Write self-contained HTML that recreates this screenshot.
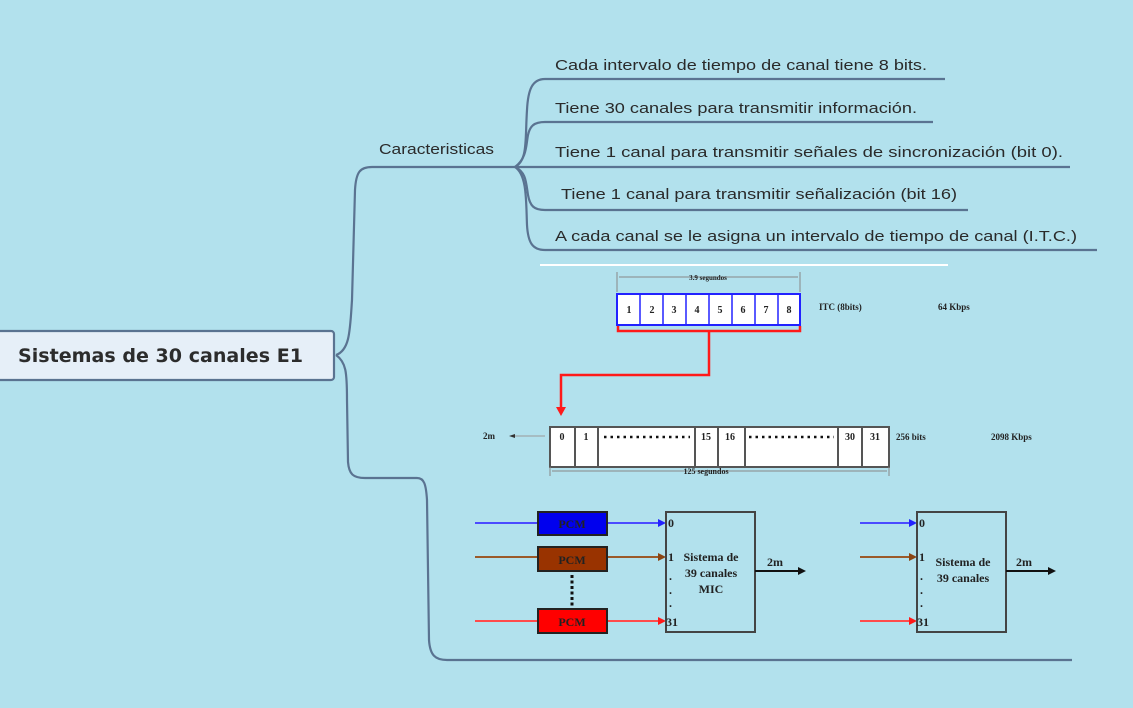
<!DOCTYPE html>
<html><head><meta charset="utf-8"><style>
html,body{margin:0;padding:0;background:#b2e1ed;}
svg{display:block}
.t{font-family:"Liberation Sans","DejaVu Sans",sans-serif;font-size:15px;fill:#2a2a2a}
.s{font-family:"Liberation Serif",serif;font-weight:bold;fill:#222}
</style></head><body>
<svg width="1133" height="708" viewBox="0 0 1133 708" xmlns="http://www.w3.org/2000/svg">
<rect width="1133" height="708" fill="#b2e1ed"/>
<g fill="none" stroke="#5a7391" stroke-width="2.2">
<path d="M336 355 C350 350 350 330 352 300 L355 190 C356 172 360 167 372 167 L515 167"/>
<path d="M336 355 C346 362 347 372 347 400 L348 462 C349 474 353 478 365 478 L417 478 C424 478 426 484 427 500 L429 640 C430 655 435 660 447 660 L1072 660"/>
<path d="M515 167 C528 160 525 140 527 110 C528 90 532 79 545 79 L945 79"/>
<path d="M515 167 C527 158 526 145 528 135 C530 126 534 122 545 122 L933 122"/>
<path d="M515 167 L1070 167"/>
<path d="M515 167 C526 172 526 182 528 195 C530 206 534 210 545 210 L968 210"/>
<path d="M515 167 C527 175 526 200 527 225 C528 242 532 250 545 250 L1097 250"/>
</g>
<rect x="-4" y="331" width="338" height="49" rx="3" fill="#e6eff8" stroke="#5a7391" stroke-width="2.2"/>
<text x="18" y="362" font-family="'DejaVu Sans','Liberation Sans',sans-serif" font-weight="bold" font-size="19" fill="#2c2c2c" textLength="285" lengthAdjust="spacingAndGlyphs">Sistemas de 30 canales E1</text>
<text class="t" x="379" y="154" textLength="115" lengthAdjust="spacingAndGlyphs">Caracteristicas</text>
<text class="t" x="555" y="70" textLength="372" lengthAdjust="spacingAndGlyphs">Cada intervalo de tiempo de canal tiene 8 bits.</text>
<text class="t" x="555" y="113" textLength="362" lengthAdjust="spacingAndGlyphs">Tiene 30 canales para transmitir información.</text>
<text class="t" x="555" y="157" textLength="508" lengthAdjust="spacingAndGlyphs">Tiene 1 canal para transmitir señales de sincronización (bit 0).</text>
<text class="t" x="561" y="199" textLength="396" lengthAdjust="spacingAndGlyphs">Tiene 1 canal para transmitir señalización (bit 16)</text>
<text class="t" x="555" y="241" textLength="522" lengthAdjust="spacingAndGlyphs">A cada canal se le asigna un intervalo de tiempo de canal (I.T.C.)</text>
<line x1="540" y1="265" x2="948" y2="265" stroke="#fff" stroke-width="2"/>

<g stroke="#888" stroke-width="1"><line x1="617" y1="272" x2="617" y2="292"/><line x1="800" y1="272" x2="800" y2="292"/>
<line x1="619" y1="277" x2="798" y2="277"/></g>
<text class="s" x="708" y="280" font-size="7" text-anchor="middle">3.9 segundos</text>
<rect x="617" y="294" width="183" height="31" fill="#fff" stroke="#2222ff" stroke-width="2"/>
<g stroke="#2222ff" stroke-width="1.5">
<line x1="640" y1="294" x2="640" y2="325"/><line x1="663" y1="294" x2="663" y2="325"/><line x1="686" y1="294" x2="686" y2="325"/><line x1="709" y1="294" x2="709" y2="325"/><line x1="732" y1="294" x2="732" y2="325"/><line x1="755" y1="294" x2="755" y2="325"/><line x1="778" y1="294" x2="778" y2="325"/></g>
<g class="s" font-size="10" text-anchor="middle">
<text x="629" y="313">1</text><text x="652" y="313">2</text><text x="674" y="313">3</text><text x="697" y="313">4</text><text x="720" y="313">5</text><text x="743" y="313">6</text><text x="766" y="313">7</text><text x="789" y="313">8</text></g>
<text class="s" x="819" y="310" font-size="9">ITC (8bits)</text>
<text class="s" x="938" y="310" font-size="9">64 Kbps</text>
<path d="M618 326 L618 331 L800 331 L800 326 M709 331 L709 375 L561 375 L561 408" fill="none" stroke="#ff1a1a" stroke-width="2.5"/>
<polygon points="556,407 566,407 561,416" fill="#ff1a1a"/>

<rect x="550" y="427" width="339" height="40" fill="#fff" stroke="#555" stroke-width="2"/>
<g stroke="#555" stroke-width="2">
<line x1="575" y1="427" x2="575" y2="467"/><line x1="598" y1="427" x2="598" y2="467"/><line x1="695" y1="427" x2="695" y2="467"/><line x1="718" y1="427" x2="718" y2="467"/><line x1="745" y1="427" x2="745" y2="467"/><line x1="838" y1="427" x2="838" y2="467"/><line x1="862" y1="427" x2="862" y2="467"/></g>
<g class="s" font-size="10" text-anchor="middle">
<text x="562" y="440">0</text><text x="586" y="440">1</text><text x="706" y="440">15</text><text x="730" y="440">16</text><text x="850" y="440">30</text><text x="875" y="440">31</text></g>
<line x1="604" y1="437" x2="690" y2="437" stroke="#111" stroke-width="2.5" stroke-dasharray="2.5 4"/>
<line x1="749" y1="437" x2="834" y2="437" stroke="#111" stroke-width="2.5" stroke-dasharray="2.5 4"/>
<text class="s" x="483" y="439" font-size="9">2m</text>
<line x1="512" y1="436" x2="545" y2="436" stroke="#999" stroke-width="1"/>
<polygon points="509,436 515,434 515,438" fill="#333"/>
<text class="s" x="896" y="440" font-size="9">256 bits</text>
<text class="s" x="991" y="440" font-size="9">2098 Kbps</text>
<g stroke="#888" stroke-width="1"><line x1="550" y1="467" x2="550" y2="476"/><line x1="889" y1="467" x2="889" y2="476"/><line x1="552" y1="471" x2="887" y2="471"/></g>
<text class="s" x="706" y="474" font-size="8" text-anchor="middle">125 segundos</text>

<line x1="475" y1="523" x2="538" y2="523" stroke="#4b4bff" stroke-width="2"/>
<line x1="607" y1="523" x2="660" y2="523" stroke="#4b4bff" stroke-width="2"/><polygon points="658,519 666,523 658,527" fill="#2222ff"/>
<line x1="475" y1="557" x2="538" y2="557" stroke="#9b5a2a" stroke-width="2"/>
<line x1="607" y1="557" x2="660" y2="557" stroke="#9b5a2a" stroke-width="2"/><polygon points="658,553 666,557 658,561" fill="#8b4513"/>
<line x1="475" y1="621" x2="538" y2="621" stroke="#ff4b4b" stroke-width="2"/>
<line x1="607" y1="621" x2="660" y2="621" stroke="#ff4b4b" stroke-width="2"/><polygon points="658,617 666,621 658,625" fill="#ff1a1a"/>
<rect x="538" y="512" width="69" height="23" fill="#0000ee" stroke="#222" stroke-width="2"/>
<rect x="538" y="547" width="69" height="24" fill="#993300" stroke="#222" stroke-width="2"/>
<rect x="538" y="609" width="69" height="24" fill="#ff0000" stroke="#222" stroke-width="2"/>
<g class="s" font-size="12" text-anchor="middle" fill="#111"><text x="572" y="528">PCM</text><text x="572" y="564">PCM</text><text x="572" y="626">PCM</text></g>
<line x1="572" y1="575" x2="572" y2="606" stroke="#111" stroke-width="3" stroke-dasharray="3 2.5"/>
<rect x="666" y="512" width="89" height="120" fill="none" stroke="#444" stroke-width="2"/>
<g class="s" font-size="12"><text x="668" y="527">0</text><text x="668" y="561">1</text><text x="669" y="580">.</text><text x="669" y="594">.</text><text x="669" y="607">.</text><text x="666" y="626">31</text>
<text x="711" y="561" text-anchor="middle">Sistema de</text><text x="711" y="577" text-anchor="middle">39 canales</text><text x="711" y="593" text-anchor="middle">MIC</text>
<text x="767" y="566">2m</text></g>
<line x1="755" y1="571" x2="800" y2="571" stroke="#111" stroke-width="2"/><polygon points="798,567 806,571 798,575" fill="#111"/>

<line x1="860" y1="523" x2="911" y2="523" stroke="#4b4bff" stroke-width="2"/><polygon points="909,519 917,523 909,527" fill="#2222ff"/>
<line x1="860" y1="557" x2="911" y2="557" stroke="#9b5a2a" stroke-width="2"/><polygon points="909,553 917,557 909,561" fill="#8b4513"/>
<line x1="860" y1="621" x2="911" y2="621" stroke="#ff4b4b" stroke-width="2"/><polygon points="909,617 917,621 909,625" fill="#ff1a1a"/>
<rect x="917" y="512" width="89" height="120" fill="none" stroke="#444" stroke-width="2"/>
<g class="s" font-size="12"><text x="919" y="527">0</text><text x="919" y="561">1</text><text x="920" y="580">.</text><text x="920" y="594">.</text><text x="920" y="607">.</text><text x="917" y="626">31</text>
<text x="963" y="566" text-anchor="middle">Sistema de</text><text x="963" y="582" text-anchor="middle">39 canales</text>
<text x="1016" y="566">2m</text></g>
<line x1="1006" y1="571" x2="1050" y2="571" stroke="#111" stroke-width="2"/><polygon points="1048,567 1056,571 1048,575" fill="#111"/>
</svg>
</body></html>
